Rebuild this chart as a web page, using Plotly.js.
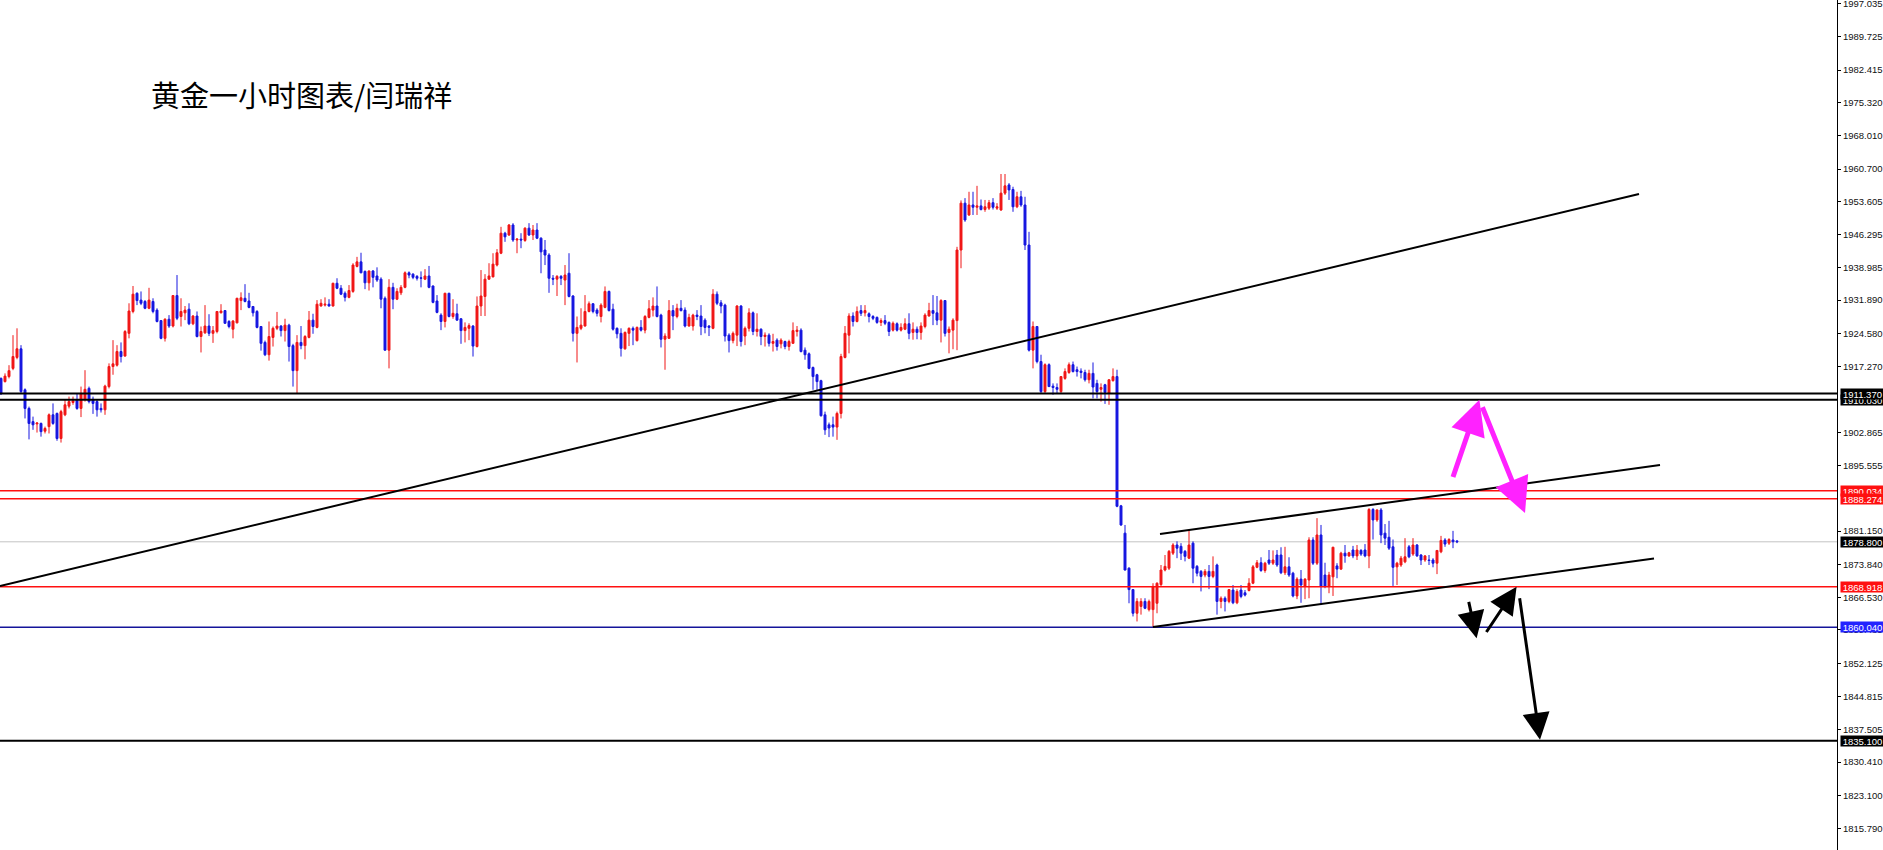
<!DOCTYPE html>
<html>
<head>
<meta charset="utf-8">
<script src="https://cdn.plot.ly/plotly-3.0.1.min.js"></script>
<style>
html,body{margin:0;padding:0;background:#fff;}
#chart{width:1883px;height:850px;}
</style>
</head>
<body>
<div id="chart"></div>
<script>
// ---- Data: XAUUSD H1 candles ----
const opens = [1914.7,1914.0,1915.1,1916.9,1919.3,1921.2,1912.2,1908.1,1905.2,1904.7,1904.8,1903.1,1904.1,1906.7,1907.0,1901.5,1906.7,1908.6,1909.4,1910.0,
1908.1,1910.1,1912.5,1910.1,1909.6,1908.1,1907.8,1912.9,1917.3,1917.6,1920.6,1919.6,1924.6,1929.4,1933.4,1931.9,1931.6,1930.1,1931.6,1929.7,
1927.4,1923.5,1927.7,1926.2,1932.9,1928.3,1929.1,1929.9,1926.7,1928.4,1923.9,1924.7,1926.2,1924.6,1925.0,1929.1,1929.6,1927.2,1925.5,1926.9,
1931.8,1932.3,1931.7,1930.5,1929.4,1926.1,1922.6,1919.9,1923.7,1925.7,1926.2,1925.2,1926.4,1921.9,1916.4,1922.6,1921.9,1923.7,1927.5,1925.9,
1930.6,1930.8,1931.0,1930.6,1935.6,1934.5,1933.4,1932.5,1933.8,1939.3,1940.3,1938.2,1935.7,1938.3,1937.2,1936.5,1932.3,1920.9,1934.7,1932.1,
1933.5,1934.7,1937.9,1937.6,1937.1,1936.8,1936.5,1937.2,1935.0,1931.7,1928.6,1927.2,1933.4,1928.3,1928.9,1927.8,1925.2,1925.7,1926.2,1921.7,
1930.6,1932.7,1936.5,1937.0,1939.6,1942.2,1946.6,1946.2,1948.4,1945.1,1945.3,1945.0,1947.7,1946.2,1947.3,1945.5,1942.9,1941.8,1936.7,1936.5,
1937.1,1936.3,1937.8,1932.8,1924.6,1925.7,1926.2,1929.4,1931.1,1929.7,1928.3,1930.3,1933.8,1929.9,1925.7,1924.6,1921.2,1924.6,1925.7,1923.0,
1925.9,1925.3,1928.1,1929.7,1930.6,1928.6,1923.3,1923.5,1929.6,1928.3,1930.1,1929.7,1926.2,1926.2,1928.6,1928.4,1927.5,1926.2,1925.7,1933.2,
1931.3,1930.8,1924.2,1923.0,1924.2,1930.6,1924.0,1925.7,1929.1,1925.0,1925.5,1923.9,1924.2,1922.4,1923.1,1922.3,1922.8,1921.7,1922.4,1925.0,
1925.3,1920.9,1920.1,1917.1,1915.5,1914.2,1906.7,1904.5,1904.5,1904.0,1907.0,1919.3,1924.2,1928.4,1927.2,1929.6,1929.1,1928.9,1928.3,1928.1,
1927.0,1927.4,1927.0,1925.3,1926.7,1925.3,1925.5,1926.7,1924.8,1925.5,1924.8,1926.1,1928.4,1929.6,1929.1,1927.5,1931.8,1924.8,1925.3,1927.4,
1942.9,1953.2,1950.6,1952.8,1952.3,1952.6,1951.8,1952.1,1953.3,1952.1,1951.7,1955.4,1957.2,1956.2,1952.4,1954.6,1952.8,1944.0,1920.9,1926.1,
1918.4,1911.8,1917.7,1913.0,1912.7,1911.8,1914.7,1916.0,1917.7,1916.6,1916.3,1916.0,1914.4,1915.8,1913.6,1912.3,1913.3,1911.4,1914.2,1915.1,
1886.7,1880.7,1873.0,1868.3,1863.1,1864.6,1865.7,1863.9,1863.9,1865.3,1869.4,1872.6,1873.0,1876.3,1878.1,1877.8,1876.7,1875.2,1878.5,1873.4,
1872.3,1871.5,1872.3,1871.2,1873.7,1865.7,1866.4,1865.7,1868.2,1865.4,1868.2,1867.6,1868.1,1869.7,1873.2,1874.2,1872.5,1874.8,1874.1,1875.9,
1875.9,1872.0,1873.3,1871.9,1866.9,1870.6,1869.1,1870.4,1879.2,1874.1,1880.3,1871.5,1869.0,1871.1,1873.5,1872.8,1876.3,1875.7,1877.0,1875.7,
1876.9,1877.0,1875.7,1885.9,1883.6,1885.8,1880.7,1879.8,1877.7,1873.3,1873.7,1874.4,1877.7,1876.1,1878.1,1875.9,1874.8,1874.8,1874.8,1874.1,
1876.6,1879.2,1878.5,1879.2,1879.0];
const highs = [1914.9,1915.8,1917.6,1924.2,1925.7,1922.0,1912.5,1908.5,1906.3,1905.0,1905.0,1904.1,1907.0,1909.2,1907.2,1907.8,1910.0,1910.7,1910.7,1911.3,
1912.9,1916.5,1912.9,1910.7,1910.0,1909.2,1913.3,1918.0,1923.1,1922.0,1922.6,1925.3,1931.2,1935.0,1933.6,1933.8,1931.9,1934.6,1932.3,1930.1,
1927.5,1927.9,1928.6,1933.0,1937.4,1932.3,1930.6,1931.2,1928.6,1929.4,1926.1,1930.8,1928.8,1926.2,1929.5,1931.0,1929.7,1927.5,1927.5,1932.4,
1933.6,1935.4,1933.5,1930.6,1929.7,1926.2,1923.0,1927.2,1926.1,1929.3,1926.4,1927.8,1926.7,1922.3,1924.2,1926.2,1924.2,1929.5,1928.9,1931.9,
1932.1,1932.5,1932.1,1935.7,1936.7,1935.2,1933.8,1935.2,1940.0,1941.4,1942.3,1938.4,1938.4,1938.5,1939.1,1936.9,1932.7,1936.5,1935.7,1934.5,
1935.2,1938.2,1938.2,1937.8,1937.4,1938.2,1938.7,1939.4,1935.1,1933.0,1929.0,1933.5,1933.5,1932.1,1931.1,1927.9,1927.0,1926.8,1926.4,1932.7,
1938.5,1937.6,1940.0,1942.2,1943.1,1948.0,1946.9,1948.6,1948.8,1945.5,1946.6,1947.9,1948.8,1948.4,1948.8,1945.7,1945.1,1942.2,1937.4,1937.4,
1937.4,1939.6,1942.2,1933.0,1928.3,1930.1,1933.0,1931.6,1931.2,1930.1,1931.2,1934.9,1934.0,1931.1,1925.9,1925.7,1925.0,1925.9,1926.1,1926.1,
1927.5,1928.6,1931.9,1932.5,1934.9,1928.9,1924.6,1931.9,1930.8,1931.1,1931.9,1930.3,1928.9,1928.9,1929.7,1930.8,1927.9,1926.4,1934.3,1933.8,
1931.9,1931.1,1924.6,1925.0,1930.8,1930.8,1926.1,1930.1,1929.4,1929.0,1925.7,1924.8,1924.6,1924.5,1923.5,1923.5,1923.0,1923.2,1927.0,1926.2,
1925.7,1921.5,1920.4,1917.3,1915.7,1914.4,1907.4,1905.0,1906.3,1907.4,1920.1,1926.2,1929.0,1929.2,1930.5,1930.8,1930.8,1929.2,1928.6,1928.3,
1927.9,1928.6,1927.2,1927.2,1927.0,1926.8,1927.9,1929.0,1927.0,1926.1,1927.0,1929.0,1931.3,1933.0,1932.8,1932.1,1931.9,1926.1,1927.9,1943.6,
1953.8,1954.3,1955.7,1955.7,1957.0,1954.0,1953.9,1953.9,1954.3,1953.2,1959.6,1959.6,1957.6,1956.8,1955.7,1955.9,1954.6,1946.9,1927.2,1926.2,
1919.9,1918.0,1918.0,1913.6,1913.6,1915.2,1916.9,1918.2,1918.4,1917.3,1916.9,1916.6,1916.6,1918.2,1914.4,1913.6,1913.5,1914.5,1916.9,1916.6,
1886.9,1882.5,1873.2,1868.4,1866.4,1866.4,1866.4,1866.1,1869.7,1869.9,1873.7,1875.9,1877.0,1878.5,1878.9,1878.5,1877.0,1881.4,1878.9,1873.7,
1872.6,1872.8,1873.7,1875.6,1874.0,1866.8,1866.8,1868.4,1869.3,1868.4,1869.3,1868.2,1870.8,1873.7,1874.8,1875.4,1874.4,1877.0,1876.9,1877.0,
1877.6,1877.7,1875.4,1872.2,1871.0,1872.6,1870.8,1879.8,1879.8,1884.0,1882.5,1874.2,1872.2,1877.7,1874.1,1876.6,1878.1,1876.6,1877.9,1878.1,
1877.2,1878.3,1886.2,1886.2,1885.9,1886.2,1882.7,1883.4,1879.3,1874.4,1875.7,1879.6,1878.1,1879.6,1878.3,1876.1,1875.9,1875.9,1875.2,1877.0,
1880.1,1879.6,1879.6,1881.2,1879.1];
const lows = [1911.1,1913.8,1914.7,1916.5,1918.9,1911.4,1905.9,1901.3,1903.4,1902.8,1901.9,1902.6,1902.6,1904.5,1901.0,1900.6,1906.4,1908.1,1908.9,1907.8,
1906.2,1909.6,1909.2,1906.9,1906.3,1907.2,1906.7,1912.5,1915.5,1917.3,1918.2,1919.5,1923.5,1929.0,1930.8,1930.8,1929.9,1929.9,1929.0,1927.0,
1923.3,1922.8,1925.8,1925.9,1927.5,1926.1,1927.5,1926.4,1926.4,1923.7,1920.4,1924.5,1924.0,1922.5,1924.6,1929.0,1926.7,1925.7,1923.5,1926.8,
1929.7,1931.4,1930.1,1928.3,1925.7,1920.8,1919.6,1918.6,1921.7,1925.3,1923.9,1922.8,1918.4,1912.9,1911.4,1921.1,1918.9,1923.5,1924.5,1925.7,
1930.5,1930.5,1930.5,1930.5,1934.3,1933.0,1931.6,1932.3,1933.5,1939.1,1937.8,1934.3,1934.0,1934.7,1935.9,1930.1,1920.8,1916.9,1929.9,1931.9,
1933.0,1934.5,1936.7,1936.5,1936.2,1934.7,1936.3,1934.5,1931.2,1929.0,1925.3,1925.9,1928.1,1927.8,1927.4,1922.3,1922.6,1923.1,1919.5,1921.5,
1928.4,1928.4,1936.4,1936.9,1939.3,1942.0,1944.7,1946.0,1944.7,1942.2,1943.3,1944.7,1946.0,1945.1,1945.3,1937.8,1939.6,1933.5,1935.2,1932.8,
1935.2,1930.8,1932.5,1922.8,1918.2,1925.3,1926.1,1929.2,1929.0,1928.3,1927.0,1930.1,1929.4,1925.2,1923.5,1919.5,1921.0,1921.8,1922.0,1922.8,
1925.0,1924.6,1927.9,1928.3,1928.1,1921.5,1916.6,1923.4,1925.3,1927.9,1929.4,1925.9,1926.1,1925.2,1927.5,1924.2,1924.6,1924.0,1925.5,1930.8,
1929.0,1922.8,1920.4,1922.4,1921.8,1921.7,1922.0,1925.0,1924.2,1923.9,1922.0,1921.7,1921.7,1920.6,1920.8,1921.3,1921.1,1920.8,1922.3,1923.9,
1920.4,1918.8,1916.7,1912.2,1912.0,1906.3,1902.3,1901.8,1901.9,1901.2,1905.9,1919.1,1920.2,1926.1,1927.0,1928.4,1928.3,1927.0,1927.5,1926.7,
1926.2,1926.4,1924.0,1925.0,1925.0,1925.0,1925.3,1923.3,1923.2,1923.3,1923.2,1925.7,1928.3,1926.4,1926.4,1922.6,1923.9,1920.2,1921.1,1920.9,
1938.9,1949.1,1950.4,1950.6,1950.6,1951.6,1951.3,1951.7,1951.8,1951.7,1951.5,1955.0,1953.9,1951.3,1952.1,1952.4,1942.9,1920.6,1916.9,1918.0,
1911.4,1911.4,1912.8,1911.1,1911.4,1911.4,1914.4,1915.7,1916.0,1915.1,1914.7,1914.0,1913.6,1910.3,1910.3,1909.6,1909.1,1908.9,1914.0,1886.4,
1882.3,1872.5,1865.3,1862.4,1861.3,1862.8,1864.0,1863.5,1860.04,1863.1,1869.0,1872.3,1872.6,1875.9,1875.2,1874.8,1874.5,1875.0,1869.7,1871.2,
1867.9,1871.0,1868.4,1870.8,1862.8,1864.2,1863.5,1865.3,1865.1,1865.1,1866.4,1866.8,1867.9,1869.5,1873.0,1872.2,1872.0,1873.7,1873.7,1873.3,
1871.7,1871.5,1871.1,1866.6,1866.2,1865.4,1866.2,1866.4,1873.7,1873.7,1864.9,1868.6,1867.5,1866.9,1870.8,1872.6,1874.2,1875.5,1875.2,1874.8,
1875.7,1875.4,1873.0,1879.3,1883.2,1878.5,1878.1,1877.0,1869.1,1869.3,1873.3,1874.1,1875.2,1875.7,1875.5,1873.7,1874.4,1873.7,1873.2,1871.7,
1876.3,1877.7,1878.1,1877.4,1878.5];
const closes = [1911.3,1915.2,1916.4,1919.5,1921.2,1911.8,1908.1,1904.8,1904.5,1904.9,1903.0,1903.7,1906.7,1904.8,1901.5,1907.4,1908.9,1909.6,1909.8,1908.1,
1911.4,1912.3,1909.6,1909.2,1907.8,1907.8,1913.0,1917.3,1917.9,1920.6,1919.5,1925.0,1929.5,1933.2,1931.8,1931.2,1930.1,1931.9,1929.4,1927.2,
1923.5,1927.7,1926.2,1932.9,1927.9,1929.4,1929.7,1926.7,1928.4,1923.9,1925.0,1926.2,1924.6,1925.2,1929.4,1929.5,1926.8,1926.1,1927.3,1932.3,
1932.4,1931.6,1930.3,1929.1,1925.9,1922.4,1919.9,1923.9,1925.7,1926.2,1925.2,1926.4,1921.7,1916.4,1922.6,1921.9,1923.9,1927.5,1926.1,1931.0,
1931.2,1931.0,1930.6,1935.6,1934.5,1933.2,1932.5,1934.0,1939.6,1940.3,1937.9,1935.7,1938.3,1936.9,1936.3,1932.1,1920.9,1934.7,1932.1,1933.8,
1934.7,1937.9,1937.4,1936.9,1936.7,1936.7,1937.2,1934.7,1931.4,1929.2,1927.2,1933.4,1928.3,1929.0,1927.5,1925.2,1925.9,1926.3,1921.8,1930.6,
1932.8,1936.5,1937.2,1939.8,1942.3,1946.6,1945.8,1948.4,1945.1,1945.3,1945.1,1947.7,1946.2,1947.3,1945.5,1942.5,1941.8,1936.7,1936.5,1937.1,
1936.7,1937.4,1932.7,1924.6,1925.9,1926.4,1929.4,1931.1,1929.4,1929.0,1930.8,1933.8,1929.6,1925.5,1924.5,1921.3,1924.8,1925.7,1925.3,1925.9,
1925.3,1928.3,1930.0,1930.6,1928.3,1923.3,1924.0,1929.6,1928.4,1930.1,1929.6,1926.2,1928.1,1928.6,1928.3,1926.1,1925.9,1925.9,1933.2,1931.2,
1930.6,1924.0,1923.0,1924.6,1930.6,1922.8,1925.7,1929.1,1925.0,1925.5,1923.9,1924.2,1922.4,1922.8,1921.7,1923.1,1921.7,1922.8,1925.2,1925.3,
1920.6,1919.9,1916.9,1915.1,1914.0,1906.5,1903.4,1903.8,1904.0,1907.0,1919.5,1924.6,1928.4,1927.2,1929.4,1929.0,1929.6,1928.3,1927.9,1927.0,
1927.4,1926.8,1925.0,1926.8,1925.3,1925.9,1926.7,1924.6,1925.5,1924.8,1926.2,1928.6,1929.6,1929.0,1927.5,1931.8,1924.6,1925.5,1927.5,1942.9,
1953.2,1949.5,1952.8,1952.3,1952.6,1951.8,1952.4,1953.3,1952.3,1952.4,1955.4,1957.0,1956.1,1952.4,1954.6,1952.8,1944.0,1920.9,1926.1,1918.4,
1911.8,1917.7,1912.9,1912.7,1912.3,1915.1,1916.2,1917.7,1916.2,1916.2,1916.0,1914.4,1915.8,1912.8,1911.8,1912.7,1911.6,1914.4,1915.1,1886.6,
1882.5,1872.6,1868.3,1863.1,1865.7,1865.7,1864.2,1865.7,1869.0,1869.7,1872.6,1873.4,1876.7,1878.1,1877.4,1876.3,1875.6,1878.1,1873.0,1871.9,
1871.2,1872.3,1871.2,1872.3,1865.7,1866.4,1865.7,1868.3,1865.4,1867.9,1866.8,1867.1,1869.7,1873.3,1874.2,1872.5,1874.1,1874.1,1874.8,1873.7,
1872.0,1873.3,1871.5,1866.9,1870.6,1869.3,1870.6,1879.2,1874.1,1880.3,1869.0,1869.0,1871.5,1877.6,1872.8,1876.3,1875.7,1876.4,1875.7,1877.0,
1876.1,1875.7,1885.9,1883.6,1885.8,1880.3,1879.6,1877.4,1873.2,1874.1,1875.2,1875.5,1875.5,1878.1,1875.7,1874.8,1875.7,1874.7,1874.1,1876.9,
1879.1,1878.3,1879.3,1878.8,1878.8];
const barIndex = opens.map((_, i) => i);

// Price scale tick labels (right axis)
const tickValues = [1997.035,1989.725,1982.415,1975.320,1968.010,1960.700,1953.605,1946.295,1938.985,1931.890,1924.580,1917.270,
  1902.865,1895.555,1881.150,1873.840,1866.530,1859.435,1852.125,1844.815,1837.505,1830.410,1823.100,1815.790];

// Horizontal levels drawn on the chart
const levelPrices = [1911.370, 1910.030, 1890.034, 1888.274, 1868.918, 1860.040, 1835.100];
const levelKinds  = ['black','black','red','red','red','blue','black'];
const bidPrice = 1878.800;

// Trend lines: [barStart, priceStart, barEnd, priceEnd]
const trendLines = [
  [-0.25, 1869.1, 409.5, 1955.2],
  [289.75, 1880.5, 414.75, 1895.67],
  [288.0, 1860.1, 413.25, 1875.15]
];
// Arrows: [tailBar, tailPrice, headBar, headPrice, kind]
const arrows = [
  [362.25, 1891.1, 369.6, 1910.0, 'pink'],
  [369.6, 1910.0, 381.0, 1885.1, 'pink'],
  [366.4, 1867.8, 368.9, 1857.6, 'black'],
  [370.6, 1858.0, 378.9, 1868.9, 'black'],
  [379.3, 1868.6, 384.75, 1835.3, 'black']
];
const titleText = '黄金一小时图表/闫瑞祥';

// ---- Styles ----
const RED = '#f01616', BLUE = '#1616e0';
const lineColor = {black:'#000000', red:'#ff1010', blue:'#14149a'};
const boxColor  = {black:'#000000', red:'#ff1010', blue:'#2323ff'};
const lineWidth = {black:2, red:1.5, blue:1.5};
const axisFont = {family:'Liberation Sans, Arial, sans-serif', size:9.5, color:'#111'};

const trace = {
  type:'candlestick', x: barIndex, open: opens, high: highs, low: lows, close: closes,
  increasing:{line:{color:RED, width:1}, fillcolor:RED},
  decreasing:{line:{color:BLUE, width:1}, fillcolor:BLUE},
  whiskerwidth:0, hoverinfo:'skip', showlegend:false
};

const shapes = [];
// bid line
shapes.push({type:'line', xref:'paper', x0:0, x1:1, yref:'y', y0:bidPrice, y1:bidPrice, line:{color:'#c4c4c4', width:1}, layer:'below'});
levelPrices.forEach((p, k) => {
  const kind = levelKinds[k];
  shapes.push({type:'line', xref:'paper', x0:0, x1:1, yref:'y', y0:p, y1:p, line:{color:lineColor[kind], width:lineWidth[kind]}});
});
trendLines.forEach(t => {
  shapes.push({type:'line', xref:'x', yref:'y', x0:t[0], y0:t[1], x1:t[2], y1:t[3], line:{color:'#000', width:2}});
});

const annotations = [];
annotations.push({xref:'paper', yref:'paper', x:149/1837, y:1-94/850, xanchor:'left', yanchor:'middle',
  text:titleText, showarrow:false, font:{family:'Noto Sans CJK SC, sans-serif', size:29, color:'#000'}});
arrows.forEach(a => {
  const pink = a[4] === 'pink';
  annotations.push({xref:'x', yref:'y', axref:'x', ayref:'y', x:a[2], y:a[3], ax:a[0], ay:a[1],
    text:' ', showarrow:true, arrowhead:2, arrowsize: pink ? 1.4 : 1.8, arrowwidth: pink ? 5 : 3,
    arrowcolor: pink ? '#ff22ff' : '#000000', standoff:0, startstandoff:0});
});
// price labels on the axis
const boxLabels = [];
levelPrices.forEach((p, k) => boxLabels.push([p, levelKinds[k]]));
boxLabels.push([bidPrice, 'black']);
// draw 1910.030 first so 1911.370 sits on top
const order = [1,0,2,3,4,5,6,7];
order.forEach(j => {
  const p = boxLabels[j][0], kind = boxLabels[j][1];
  annotations.push({xref:'paper', x:1, xanchor:'left', xshift:3, yref:'y', y:p, yanchor:'middle',
    text:p.toFixed(3), showarrow:false, bgcolor:boxColor[kind], borderpad:0, width:43, height:10,
    font:{family:axisFont.family, size:9.5, color:'#ffffff'}});
});

const layout = {
  width:1883, height:850,
  margin:{l:0, r:46, t:0, b:0, pad:0},
  paper_bgcolor:'#ffffff', plot_bgcolor:'#ffffff',
  showlegend:false, boxgap:0.3,
  xaxis:{range:[-0.25, 459.0], showgrid:false, zeroline:false, showline:false, showticklabels:false, ticks:'',
    rangeslider:{visible:false}, fixedrange:true},
  yaxis:{range:[1811.09, 1997.83], side:'right', showgrid:false, zeroline:false, showline:true, linecolor:'#000', linewidth:1,
    ticks:'outside', ticklen:3, tickcolor:'#000', tickmode:'array', tickvals:tickValues,
    ticktext: tickValues.map(v => v.toFixed(3)), tickfont:axisFont, ticklabeloverflow:'allow', fixedrange:true},
  shapes: shapes,
  annotations: annotations
};

Plotly.newPlot('chart', [trace], layout, {staticPlot:true, displayModeBar:false});
</script>
</body>
</html>
